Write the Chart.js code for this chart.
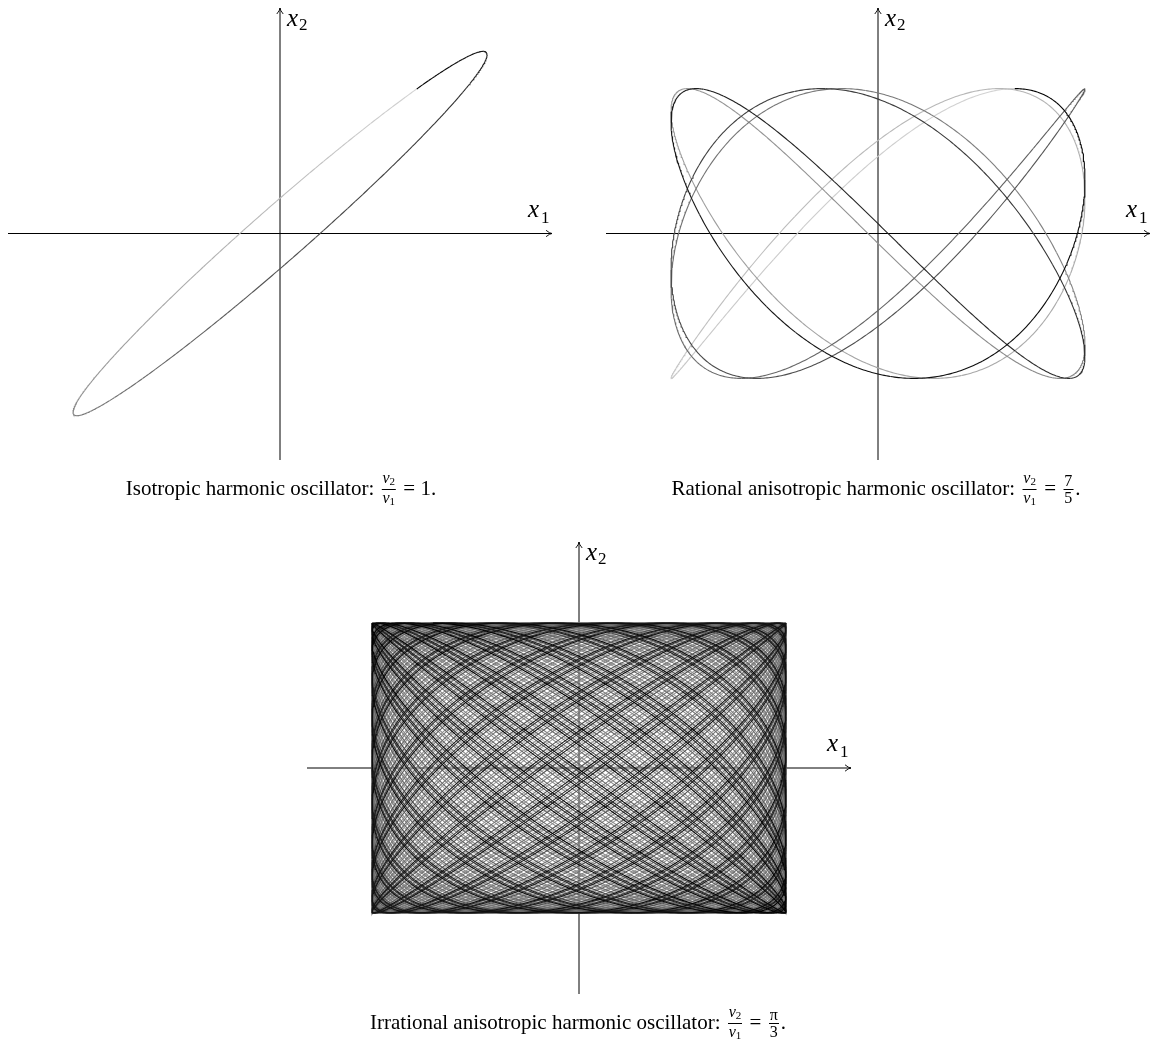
<!DOCTYPE html>
<html>
<head>
<meta charset="utf-8">
<script src="https://cdn.jsdelivr.net/npm/chart.js@4.4.1/dist/chart.umd.min.js"></script>
<style>
	body { margin: 0; background: #fff; width: 1155px; height: 1042px; position: relative; overflow: hidden; font-family: "Liberation Serif", "DejaVu Serif", serif; color: #000; }
	canvas { position: absolute; }
	.cap { position: absolute; font-size: 21px; line-height: 36px; white-space: nowrap; transform: translateX(-50%); }
	.frac { display: inline-block; vertical-align: middle; text-align: center; font-size: 16px; line-height: 16px; margin: 0 2px; position: relative; top: -1px; }
	.frac > span { display: block; padding: 0 1px; }
	.frac .num { border-bottom: 1px solid #000; }
	.frac sub { font-size: 11px; vertical-align: -2px; }
	.frac i { font-style: italic; }
</style>
</head>
<body>
<canvas id="iso"></canvas>
<canvas id="rat"></canvas>
<canvas id="irr"></canvas>
<div class="cap" id="cap0"></div>
<div class="cap" id="cap1"></div>
<div class="cap" id="cap2"></div>

<script>
// trajectory x1 = A1 cos(t + p1), x2 = A2 cos(r t + p2), 0 <= t <= T
// values (1 unit = 207 px)
const plotIds = ['iso', 'rat', 'irr'];
const amplitudes1 = [1, 1, 1];
const amplitudes2 = [0.88, 0.70, 0.70];
const frequencyRatios = [1, 7 / 5, Math.PI / 3];
const phases1 = [0.849, 0.849, 0.849];
const phases2 = [0.654, 0, 0];
const durations = [2 * Math.PI, 10 * Math.PI, 900];
const startGreys = [212, 212, 220];
const captionNames = ['Isotropic', 'Rational anisotropic', 'Irrational anisotropic'];
const captionRatios = ['1', '7/5', 'π/3'];

// layout (pixels)
const pxPerUnit = 207;
const axisHalfX = 272, axisHalfY = 226;
const PAD = 24;
const plotCentres = [[280, 233.5], [878, 233.5], [579, 768]];
const captionPos = [[281, 470], [876, 470], [578, 1004]];
const timeSteps = [0.01, 0.01, 0.02];
const bandCounts = [160, 200, 200];

function shade(f, g0) {
	var g = Math.round(g0 * (1 - f));
	return `rgb(${g},${g},${g})`;
}

function trajectory(i) {
	var pts = [];
	var T = durations[i], dt = timeSteps[i];
	var n = Math.ceil(T / dt);
	for (let k = 0; k <= n; k++) {
		let t = T * k / n;
		pts.push({
			x: amplitudes1[i] * Math.cos(t + phases1[i]),
			y: amplitudes2[i] * Math.cos(frequencyRatios[i] * t + phases2[i])
		});
	}
	return pts;
}

function bands(pts, K, g0) {
	var sets = [];
	var per = (pts.length - 1) / K;
	for (let b = 0; b < K; b++) {
		let a = Math.floor(b * per), e = Math.floor((b + 1) * per);
		sets.push({
			data: pts.slice(a, e + 1),
			showLine: true,
			borderColor: shade((b + 0.5) / K, g0),
			borderWidth: 1.1,
			pointRadius: 0,
			order: K - b	// later (darker) bands on top
		});
	}
	return sets;
}

function arrowHead(ctx, x, y, dx, dy) {
	// small TeX-style barbed tip pointing along (dx,dy)
	var L = 6, W = 3.2;
	var nx = -dy, ny = dx;
	ctx.beginPath();
	ctx.moveTo(x - dx * L + nx * W, y - dy * L + ny * W);
	ctx.quadraticCurveTo(x - dx * 2, y - dy * 2, x, y);
	ctx.quadraticCurveTo(x - dx * 2, y - dy * 2, x - dx * L - nx * W, y - dy * L - ny * W);
	ctx.stroke();
}

const axesPlugin = {
	id: 'middleAxes',
	beforeDatasetsDraw(chart) {
		var ctx = chart.ctx, xs = chart.scales.x, ys = chart.scales.y;
		var x0 = xs.getPixelForValue(0), y0 = ys.getPixelForValue(0);
		ctx.save();
		ctx.strokeStyle = '#000';
		ctx.lineWidth = 1;
		ctx.beginPath();
		ctx.moveTo(xs.left, y0); ctx.lineTo(xs.right, y0);
		ctx.moveTo(x0, ys.bottom); ctx.lineTo(x0, ys.top);
		ctx.stroke();
		ctx.lineWidth = 0.9;
		arrowHead(ctx, xs.right, y0, 1, 0);
		arrowHead(ctx, x0, ys.top, 0, -1);
		ctx.fillStyle = '#000';
		ctx.textBaseline = 'alphabetic';
		ctx.font = 'italic 25px "Liberation Serif"';
		ctx.fillText('x', x0 + 7, ys.top + 18);
		ctx.fillText('x', xs.right - 24, y0 - 17);
		ctx.font = '17px "Liberation Serif"';
		ctx.fillText('2', x0 + 19, ys.top + 22);
		ctx.fillText('1', xs.right - 11, y0 - 11);
		ctx.restore();
	}
};

function drawPlot(i) {
	var [cx, cy] = plotCentres[i];
	var left = Math.round(cx - axisHalfX), top = Math.round(cy - axisHalfY);
	var w = 2 * axisHalfX, h = 2 * axisHalfY;
	var canvas = document.getElementById(plotIds[i]);
	canvas.width = w + 2 * PAD; canvas.height = h + 2 * PAD;
	canvas.style.left = (left - PAD) + 'px';
	canvas.style.top = (top - PAD) + 'px';

	new Chart(canvas.getContext('2d'), {
		type: 'scatter',
		data: { datasets: bands(trajectory(i), bandCounts[i], startGreys[i]) },
		options: {
			responsive: false,
			animation: false,
			events: [],
			layout: { padding: PAD },
			plugins: { legend: { display: false }, tooltip: { enabled: false } },
			scales: {
				x: { type: 'linear', display: false, min: (left - cx) / pxPerUnit, max: (left + w - cx) / pxPerUnit },
				y: { type: 'linear', display: false, min: (cy - top - h) / pxPerUnit, max: (cy - top) / pxPerUnit }
			}
		},
		plugins: [axesPlugin]
	});

	var r = captionRatios[i].split('/');
	var ratio = r.length > 1
		? `<span class="frac"><span class="num">${r[0]}</span><span>${r[1]}</span></span>`
		: r[0];
	var cap = document.getElementById('cap' + i);
	cap.innerHTML = `${captionNames[i]} harmonic oscillator: <span class="frac"><span class="num"><i>ν</i><sub>2</sub></span><span><i>ν</i><sub>1</sub></span></span> = ${ratio}.`;
	cap.style.left = captionPos[i][0] + 'px';
	cap.style.top = captionPos[i][1] + 'px';
}

plotIds.forEach((id, i) => drawPlot(i));
</script>
</body>
</html>
